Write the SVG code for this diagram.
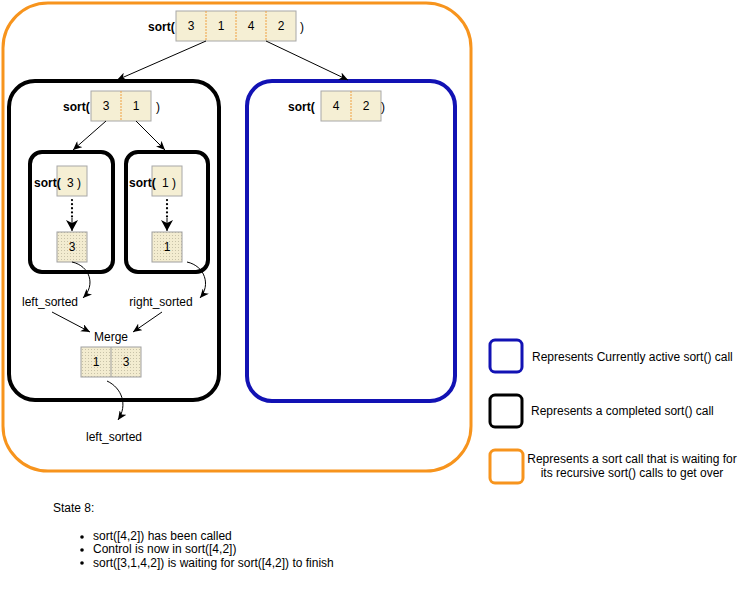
<svg xmlns="http://www.w3.org/2000/svg" width="742" height="612" viewBox="0 0 742 612">
<style>
text{font-family:"Liberation Sans",Arial,sans-serif;font-size:12px;fill:#000}
.b{font-weight:bold}
.m{text-anchor:middle}
.cell{fill:#f5efd4;stroke:#a8a8a8;stroke-width:1}
.sc{fill:url(#stip);stroke:#a0a0a0;stroke-width:1}
.div{stroke:#f0a040;stroke-width:1;stroke-dasharray:2 1}
.sdiv{stroke:#a0a0a0;stroke-width:1}
.orange{fill:none;stroke:#f7941d;stroke-width:3}
.black{fill:none;stroke:#000;stroke-width:4}
.blue{fill:none;stroke:#1212b4;stroke-width:4}
.conn{fill:none;stroke:#000;stroke-width:1}
.dots{fill:none;stroke:#000;stroke-width:2.2;stroke-dasharray:0.1 4;stroke-linecap:round}
</style>
<defs>
<pattern id="stip" width="3" height="3" patternUnits="userSpaceOnUse">
<rect width="3" height="3" fill="#f3ecd0"/>
<rect x="1" y="1" width="1" height="1" fill="#c8c2a8"/>
</pattern>
<marker id="ah" markerWidth="10" markerHeight="8" refX="9" refY="4" orient="auto" markerUnits="userSpaceOnUse">
<path d="M0,0 L9,4 L0,8 L2.5,4 Z" fill="#000"/>
</marker>
<marker id="big" markerWidth="12" markerHeight="12" refX="11" refY="6" orient="auto" markerUnits="userSpaceOnUse">
<path d="M0,0 L11,6 L0,12 L3,6 Z" fill="#000"/>
</marker>
</defs>

<g id="outer-call">
<rect class="orange" x="3" y="3" width="468" height="468" rx="45"/>
<text class="b" x="148" y="31">sort(</text>
<rect class="cell" x="176" y="11" width="120" height="30"/>
<line class="div" x1="206" y1="11" x2="206" y2="41"/>
<line class="div" x1="236" y1="11" x2="236" y2="41"/>
<line class="div" x1="266" y1="11" x2="266" y2="41"/>
<text class="m" x="191" y="30">3</text>
<text class="m" x="221" y="30">1</text>
<text class="m" x="251" y="30">4</text>
<text class="m" x="281" y="30">2</text>
<text x="300" y="31">)</text>
</g>

<g id="left-call">
<rect class="black" x="9" y="81" width="210" height="319" rx="26"/>
<text class="b" x="63" y="111">sort(</text>
<rect class="cell" x="91" y="91" width="60" height="30"/>
<line class="div" x1="121" y1="91" x2="121" y2="121"/>
<text class="m" x="106" y="110">3</text>
<text class="m" x="136" y="110">1</text>
<text x="156" y="111">)</text>
</g>

<g id="sort-3">
<rect class="black" x="30" y="152" width="83" height="120" rx="12"/>
<rect class="cell" x="57" y="166" width="30" height="30"/>
<text x="34" y="187"><tspan class="b">sort(</tspan><tspan x="67">3</tspan><tspan x="77">)</tspan></text>
<rect class="sc" x="57" y="232" width="30" height="30"/>
<text class="m" x="72" y="251">3</text>
</g>

<g id="sort-1">
<rect class="black" x="126" y="152" width="82" height="120" rx="12"/>
<rect class="cell" x="152" y="166" width="30" height="30"/>
<text x="129" y="187"><tspan class="b">sort(</tspan><tspan x="162">1</tspan><tspan x="172">)</tspan></text>
<rect class="sc" x="152" y="232" width="30" height="30"/>
<text class="m" x="167" y="251">1</text>
</g>

<g id="labels">
<text class="m" x="50" y="306">left_sorted</text>
<text class="m" x="161" y="306">right_sorted</text>
<text class="m" x="111" y="341">Merge</text>
<text class="m" x="114" y="441">left_sorted</text>
</g>

<g id="merge">
<rect class="sc" x="81" y="347" width="60" height="30"/>
<line class="sdiv" x1="111" y1="347" x2="111" y2="377"/>
<text class="m" x="96" y="366">1</text>
<text class="m" x="126" y="366">3</text>
</g>

<g id="right-call">
<rect class="blue" x="247" y="81" width="208" height="320" rx="25"/>
<text class="b" x="288" y="111">sort(</text>
<rect class="cell" x="321" y="91" width="60" height="30"/>
<line class="div" x1="351" y1="91" x2="351" y2="121"/>
<text class="m" x="336" y="110">4</text>
<text class="m" x="366" y="110">2</text>
<text x="381" y="111">)</text>
</g>

<g id="connectors">
<line class="conn" x1="206" y1="41" x2="117" y2="80" marker-end="url(#ah)"/>
<line class="conn" x1="266" y1="41" x2="348" y2="80" marker-end="url(#ah)"/>
<line class="conn" x1="106" y1="121" x2="73" y2="150" marker-end="url(#ah)"/>
<line class="conn" x1="136" y1="121" x2="165" y2="150" marker-end="url(#ah)"/>
<line class="dots" x1="72" y1="200" x2="72" y2="218"/>
<line class="conn" x1="72" y1="218" x2="72" y2="231" marker-end="url(#big)"/>
<line class="dots" x1="167" y1="200" x2="167" y2="218"/>
<line class="conn" x1="167" y1="218" x2="167" y2="231" marker-end="url(#big)"/>
<path class="conn" d="M72,262 C90,266 96,285 83,298" marker-end="url(#ah)"/>
<path class="conn" d="M187,262 C205,266 211,285 200,298" marker-end="url(#ah)"/>
<line class="conn" x1="52" y1="312" x2="90" y2="332" marker-end="url(#ah)"/>
<line class="conn" x1="162" y1="312" x2="133" y2="332" marker-end="url(#ah)"/>
<path class="conn" d="M107,381 C122,388 128,405 118,420" marker-end="url(#ah)"/>
</g>

<g id="legend">
<rect x="490" y="340" width="32" height="32" rx="5" fill="none" stroke="#1212b4" stroke-width="3"/>
<text x="532" y="361">Represents Currently active sort() call</text>
<rect x="490" y="395" width="32" height="32" rx="5" fill="none" stroke="#000" stroke-width="3"/>
<text x="531" y="415">Represents a completed sort() call</text>
<rect x="490" y="450" width="33" height="33" rx="5" fill="none" stroke="#f7941d" stroke-width="3"/>
<text class="m" x="632" y="463">Represents a sort call that is waiting for</text>
<text class="m" x="632" y="477">its recursive sort() calls to get over</text>
</g>

<g id="notes">
<text x="53" y="512">State 8:</text>
<circle cx="82" cy="537" r="1.8"/>
<circle cx="82" cy="550" r="1.8"/>
<circle cx="82" cy="563" r="1.8"/>
<text x="93" y="540">sort([4,2]) has been called</text>
<text x="93" y="553">Control is now in sort([4,2])</text>
<text x="93" y="567">sort([3,1,4,2]) is waiting for sort([4,2]) to finish</text>
</g>
</svg>
